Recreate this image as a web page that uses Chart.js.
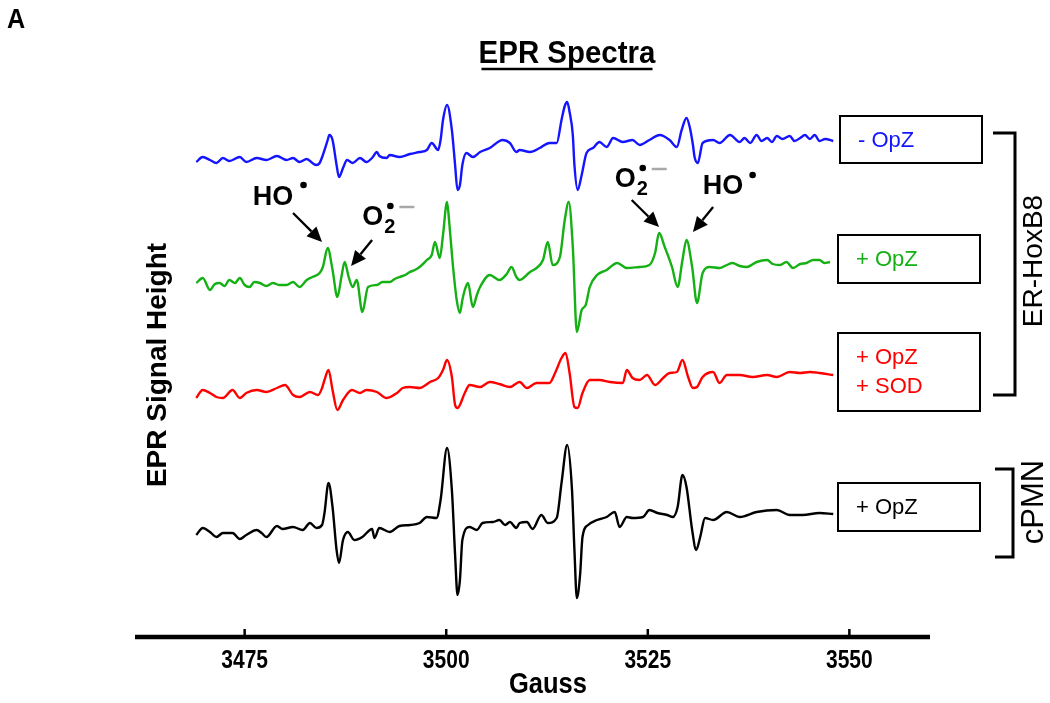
<!DOCTYPE html>
<html><head><meta charset="utf-8">
<script src="https://cdn.jsdelivr.net/npm/chart.js@4"></script>
<style>html,body{margin:0;padding:0;background:#fff;}canvas{display:block;}</style>
</head><body>
<canvas id="c" width="1050" height="703" style="width:1050px;height:703px"></canvas>
<script>
// ---------- data (Gauss vs. EPR signal, arbitrary units relative to each trace's baseline) ----------
const xTicks = [3475, 3500, 3525, 3550];
const xTickLabels = ['3475', '3500', '3525', '3550'];

const blueGauss = [3469.0,3469.8,3470.7,3471.5,3472.3,3473.1,3474.4,3475.2,3476.5,3477.7,3479.0,3480.2,3481.0,3481.8,3482.7,3483.4,3483.9,3484.3,3484.7,3485.3,3485.5,3485.9,3486.4,3486.7,3487.2,3487.7,3488.4,3489.3,3490.1,3490.8,3491.4,3491.7,3492.6,3493.0,3494.2,3495.5,3496.7,3497.6,3498.2,3499.0,3499.3,3499.6,3500.1,3500.7,3501.1,3501.4,3501.7,3502.0,3502.5,3503.3,3504.2,3505.4,3507.0,3507.9,3508.7,3509.1,3510.4,3511.6,3512.8,3513.7,3514.3,3514.7,3515.0,3515.3,3515.7,3515.9,3516.3,3516.8,3517.4,3518.2,3519.0,3519.9,3520.7,3521.9,3523.1,3524.0,3525.2,3526.5,3527.7,3528.6,3529.2,3529.8,3530.2,3530.6,3530.8,3531.2,3531.8,3533.1,3533.9,3535.2,3536.4,3537.0,3537.7,3538.5,3539.1,3539.8,3540.4,3541.0,3541.7,3542.6,3543.2,3543.9,3544.5,3545.1,3545.7,3546.3,3547.0,3548.0];
const blueSignal = [-4,1,-2,-5,0,-3,1,-4,0,-2,2,-2,0,-4,-1,-5,-7,-5,3,18,23,18,-7,-19,-10,-2,-5,0,-4,0,6,2,0,3,1,4,6,8,15,8,18,38,53,28,-7,-32,-27,-7,5,1,6,10,18,15,6,8,6,10,15,15,38,52,56,46,23,-7,-32,-17,5,10,16,11,20,16,18,13,18,23,18,11,28,40,31,13,1,-5,15,18,15,23,16,20,15,23,17,20,16,22,19,22,17,20,23,19,23,17,19,17];

const greenGauss = [3469.0,3469.8,3470.7,3471.3,3471.9,3472.5,3473.1,3473.8,3474.4,3475.0,3475.6,3476.2,3476.9,3477.7,3478.5,3479.3,3480.2,3481.0,3481.8,3482.7,3483.4,3484.3,3484.7,3485.3,3485.9,3486.5,3487.0,3487.4,3487.9,3488.4,3488.9,3489.6,3490.3,3491.4,3492.1,3493.0,3493.6,3494.2,3494.9,3495.5,3496.1,3496.7,3497.6,3498.2,3498.6,3499.2,3499.6,3500.1,3500.4,3500.8,3501.3,3501.7,3502.0,3502.3,3502.7,3503.3,3503.8,3504.2,3505.4,3506.6,3507.5,3508.1,3508.7,3509.1,3510.4,3511.2,3512.0,3512.6,3513.2,3514.1,3514.7,3515.2,3515.7,3516.2,3516.8,3517.3,3517.8,3518.7,3519.9,3521.2,3522.4,3524.0,3525.2,3525.9,3526.4,3527.1,3528.0,3528.7,3529.3,3529.8,3530.5,3531.1,3531.8,3532.7,3533.9,3534.8,3535.5,3536.4,3537.3,3538.5,3539.8,3540.5,3541.4,3542.2,3543.0,3543.9,3544.7,3545.5,3546.3,3546.9,3547.6];
const greenSignal = [-1,4,-8,-2,-1,-4,2,-1,4,-3,-5,0,-1,-4,-1,-3,-3,0,-5,2,5,9,15,34,12,-15,5,20,5,-5,2,-30,-5,-3,0,0,3,5,7,10,12,15,22,27,40,24,47,80,57,19,-18,-31,-18,-8,-1,-25,-13,-5,7,2,8,15,5,2,10,14,22,40,17,25,62,80,35,-50,-28,-23,-5,7,12,19,14,15,17,29,49,35,15,-5,22,42,15,-21,9,15,14,17,19,16,15,20,22,18,17,20,14,18,19,22,22,19,20];

const redGauss = [3469.0,3469.8,3470.7,3471.5,3472.3,3473.5,3474.4,3475.2,3476.5,3477.7,3479.0,3480.0,3481.0,3481.8,3483.1,3484.1,3484.6,3484.9,3485.4,3485.9,3486.5,3487.2,3488.3,3489.3,3490.1,3491.4,3492.6,3493.9,3494.6,3495.5,3496.7,3498.0,3499.0,3499.6,3500.1,3500.7,3501.1,3501.4,3502.3,3502.9,3504.2,3505.4,3506.6,3507.9,3509.1,3510.0,3511.2,3512.8,3513.5,3514.3,3514.8,3515.3,3515.9,3516.3,3516.9,3517.8,3519.0,3520.3,3521.9,3522.4,3523.1,3524.0,3524.9,3525.9,3526.9,3527.7,3528.6,3529.3,3530.0,3530.6,3531.1,3531.8,3533.1,3533.9,3534.8,3536.4,3538.0,3539.8,3541.0,3542.6,3543.9,3545.1,3546.3,3548.0];
const redSignal = [-6,2,-1,-5,-6,2,-6,-1,2,0,4,7,-3,-5,0,-3,4,12,22,2,-18,-8,2,-1,2,0,-6,-1,4,5,4,10,14,22,32,15,-13,-16,-1,7,5,10,8,5,10,4,9,9,19,34,39,19,-15,-16,-1,12,12,10,9,22,14,12,17,7,14,19,20,32,15,4,5,15,20,9,17,17,15,17,15,20,19,20,19,17];

const blackGauss = [3469.0,3469.8,3470.7,3471.5,3472.3,3473.5,3474.4,3475.2,3476.5,3477.1,3477.7,3479.0,3479.7,3481.0,3482.2,3483.1,3483.9,3484.6,3484.9,3485.4,3485.9,3486.4,3486.7,3487.2,3487.8,3488.6,3489.6,3490.8,3491.1,3491.7,3493.0,3494.2,3495.5,3496.7,3497.6,3498.8,3499.3,3500.1,3500.7,3501.1,3501.4,3501.7,3502.0,3502.9,3503.8,3504.5,3505.8,3506.6,3507.3,3507.9,3508.7,3509.1,3510.0,3510.7,3511.8,3512.6,3513.7,3514.3,3515.0,3515.6,3515.9,3516.2,3516.6,3516.9,3517.6,3518.7,3519.9,3520.9,3521.5,3522.4,3523.1,3524.4,3525.2,3526.2,3527.4,3528.1,3528.7,3529.3,3529.8,3530.5,3531.0,3531.5,3532.1,3533.1,3534.8,3536.4,3538.5,3541.0,3542.6,3544.2,3546.3,3548.0];
const blackSignal = [-3,4,0,-5,-1,-1,-7,-3,2,-1,-5,6,3,5,2,9,4,7,19,49,25,-18,-31,-8,0,-8,-5,3,-6,4,0,6,7,9,15,14,32,84,42,-23,-63,-48,-8,5,2,9,10,12,7,10,4,9,10,3,17,9,14,49,87,42,-18,-66,-43,-5,7,12,15,20,5,15,14,15,22,19,17,15,25,57,45,2,-18,-5,14,12,20,15,20,22,17,17,19,18];

const seriesNames = ['- OpZ', '+ OpZ', '+ OpZ + SOD', 'cPMN + OpZ'];
const seriesColors = ['#1414ff', '#14b014', '#ff0000', '#000000'];
const traceOffsets = [479, 355, 245, 105];   // vertical stacking of the four spectra

// ---------- chart ----------
const SANS = '"Liberation Sans", Arial, Helvetica, sans-serif';
Chart.defaults.color = '#000';
Chart.defaults.font.family = SANS;

function toPoints(g, s, off) { return g.map((x, i) => ({ x: x, y: s[i] + off })); }

const gaussSets = [blueGauss, greenGauss, redGauss, blackGauss];
const signalSets = [blueSignal, greenSignal, redSignal, blackSignal];

const datasets = gaussSets.map((g, k) => ({
  label: seriesNames[k],
  data: toPoints(g, signalSets[k], traceOffsets[k]),
  borderColor: seriesColors[k],
  borderWidth: 2.4,
  pointRadius: 0,
  fill: false,
  cubicInterpolationMode: 'monotone'
}));

function arrow(ctx, x1, y1, x2, y2) {
  const a = Math.atan2(y2 - y1, x2 - x1), L = 15, W = 7;
  const bx = x2 - L * Math.cos(a), by = y2 - L * Math.sin(a);
  ctx.beginPath(); ctx.moveTo(x1, y1); ctx.lineTo(bx, by); ctx.stroke();
  ctx.beginPath();
  ctx.moveTo(x2, y2);
  ctx.lineTo(bx + W * Math.sin(a), by - W * Math.cos(a));
  ctx.lineTo(bx - W * Math.sin(a), by + W * Math.cos(a));
  ctx.closePath(); ctx.fill();
}

// condensed bold text (the original uses a narrow typeface)
function narrowText(ctx, txt, cx, cy, size, squeeze) {
  ctx.save(); ctx.translate(cx, cy); ctx.scale(squeeze, 1);
  ctx.font = 'bold ' + size + 'px ' + SANS; ctx.textAlign = 'center'; ctx.textBaseline = 'middle';
  ctx.fillText(txt, 0, 0); ctx.restore();
}

const decor = {
  id: 'decor',
  afterDraw(chart) {
    const ctx = chart.ctx, xs = chart.scales.x, ys = chart.scales.y, ca = chart.chartArea;
    const P = (g, v) => [xs.getPixelForValue(g), ys.getPixelForValue(v)];
    ctx.save();
    // x axis line, inward ticks and tick labels
    ctx.strokeStyle = '#000'; ctx.fillStyle = '#000'; ctx.lineWidth = 4.5;
    ctx.beginPath(); ctx.moveTo(ca.left, ca.bottom); ctx.lineTo(ca.right, ca.bottom); ctx.stroke();
    ctx.lineWidth = 2.5;
    xTicks.forEach((v, i) => {
      const px = xs.getPixelForValue(v);
      ctx.beginPath(); ctx.moveTo(px, ca.bottom); ctx.lineTo(px, ca.bottom - 8); ctx.stroke();
      narrowText(ctx, xTickLabels[i], px, ca.bottom + 24, 25, 0.84);
    });
    narrowText(ctx, 'Gauss', 548, 685, 29, 0.88);

    // panel letter and title
    narrowText(ctx, 'A', 16, 20, 28, 0.9);
    ctx.font = 'bold 30px ' + SANS; ctx.textAlign = 'center'; ctx.textBaseline = 'middle';
    const tw = ctx.measureText('EPR Spectra').width * 0.95;
    narrowText(ctx, 'EPR Spectra', 567, 54, 31, 0.95);
    ctx.lineWidth = 2.5; ctx.beginPath(); ctx.moveTo(567 - tw / 2, 69); ctx.lineTo(567 + tw / 2, 69); ctx.stroke();

    // y axis title
    ctx.save(); ctx.translate(158, 365); ctx.rotate(-Math.PI / 2);
    ctx.font = 'bold 28px ' + SANS; ctx.textAlign = 'center'; ctx.textBaseline = 'middle';
    ctx.fillText('EPR Signal Height', 0, 0);
    ctx.restore();

    // radical annotations (anchored in data coordinates)
    ctx.fillStyle = '#000'; ctx.strokeStyle = '#000'; ctx.lineWidth = 2.3; ctx.textAlign = 'left'; ctx.textBaseline = 'middle';
    const drawHO = (g, v, bg, bv) => {
      let [x, y] = P(g, v); ctx.font = 'bold 27px ' + SANS; ctx.fillText('HO', x, y);
      let [bx, by] = P(bg, bv); ctx.beginPath(); ctx.arc(bx, by, 3.3, 0, 2 * Math.PI); ctx.fill();
    };
    const drawO2 = (g, v) => {
      let [x, y] = P(g, v); ctx.font = 'bold 27px ' + SANS; ctx.fillText('O', x, y);
      const w = ctx.measureText('O').width;
      ctx.font = 'bold 20px ' + SANS; ctx.fillText('2', x + w + 1, y + 9);
      ctx.beginPath(); ctx.arc(x + w + 7, y - 12, 3.3, 0, 2 * Math.PI); ctx.fill();
      ctx.save(); ctx.strokeStyle = '#a8a8a8'; ctx.lineWidth = 2.5;
      ctx.beginPath(); ctx.moveTo(x + w + 16, y - 11); ctx.lineTo(x + w + 31, y - 11); ctx.stroke(); ctx.restore();
    };
    drawHO(3476.0, 439, 3482.3, 452);
    drawO2(3489.6, 419);
    drawO2(3520.9, 457);
    drawHO(3531.8, 450, 3538.0, 462);
    const arr = (g1, v1, g2, v2) => { const [a, b] = P(g1, v1), [c, d] = P(g2, v2); arrow(ctx, a, b, c, d); };
    arr(3481.0, 424, 3484.6, 395);
    arr(3490.8, 397, 3488.2, 371);
    arr(3523.0, 437, 3526.4, 410);
    arr(3533.1, 430, 3530.6, 405);

    // legend boxes
    ctx.lineWidth = 2; ctx.strokeStyle = '#000';
    ctx.font = '22px ' + SANS; ctx.textAlign = 'left';
    const boxes = [
      [840, 116, 142, 47, [seriesNames[0]], seriesColors[0]],
      [838, 235, 142, 48, ['+ OpZ'], seriesColors[1]],
      [838, 333, 142, 78, ['+ OpZ', '+ SOD'], seriesColors[2]],
      [838, 483, 142, 48, ['+ OpZ'], seriesColors[3]]
    ];
    boxes.forEach(([x, y, w, h, lines, col]) => {
      ctx.strokeRect(x, y, w, h);
      ctx.fillStyle = col;
      if (lines.length === 1) ctx.fillText(lines[0], x + 18, y + h / 2 + 1);
      else { ctx.fillText(lines[0], x + 18, y + 25); ctx.fillText(lines[1], x + 18, y + 54); }
    });

    // brackets
    ctx.strokeStyle = '#000'; ctx.lineWidth = 3;
    ctx.beginPath(); ctx.moveTo(993, 133); ctx.lineTo(1015, 133); ctx.lineTo(1015, 395); ctx.lineTo(993, 395); ctx.stroke();
    ctx.beginPath(); ctx.moveTo(995, 469); ctx.lineTo(1013, 469); ctx.lineTo(1013, 557); ctx.lineTo(995, 557); ctx.stroke();
    ctx.fillStyle = '#000'; ctx.textAlign = 'center';
    ctx.font = '28px ' + SANS;
    ctx.save(); ctx.translate(1034, 261); ctx.rotate(-Math.PI / 2); ctx.fillText('ER-HoxB8', 0, 0); ctx.restore();
    ctx.font = '31px ' + SANS;
    ctx.save(); ctx.translate(1034, 502); ctx.rotate(-Math.PI / 2); ctx.fillText('cPMN', 0, 0); ctx.restore();
    ctx.restore();
  }
};

new Chart(document.getElementById('c'), {
  type: 'line',
  data: { datasets: datasets },
  options: {
    responsive: false,
    animation: false,
    events: [],
    layout: { padding: { left: 135, right: 120, top: 80, bottom: 0 } },
    plugins: { legend: { display: false }, tooltip: { enabled: false }, title: { display: false } },
    scales: {
      x: {
        type: 'linear', min: 3461.4, max: 3560,
        afterBuildTicks: s => { s.ticks = xTicks.map(v => ({ value: v })); },
        afterFit: s => { s.height = 66; },
        grid: { display: false, drawTicks: false },
        border: { display: false },
        ticks: { display: false },
        title: { display: false }
      },
      y: { display: false, min: 0, max: 557 }
    }
  },
  plugins: [decor]
});
</script>
</body></html>
